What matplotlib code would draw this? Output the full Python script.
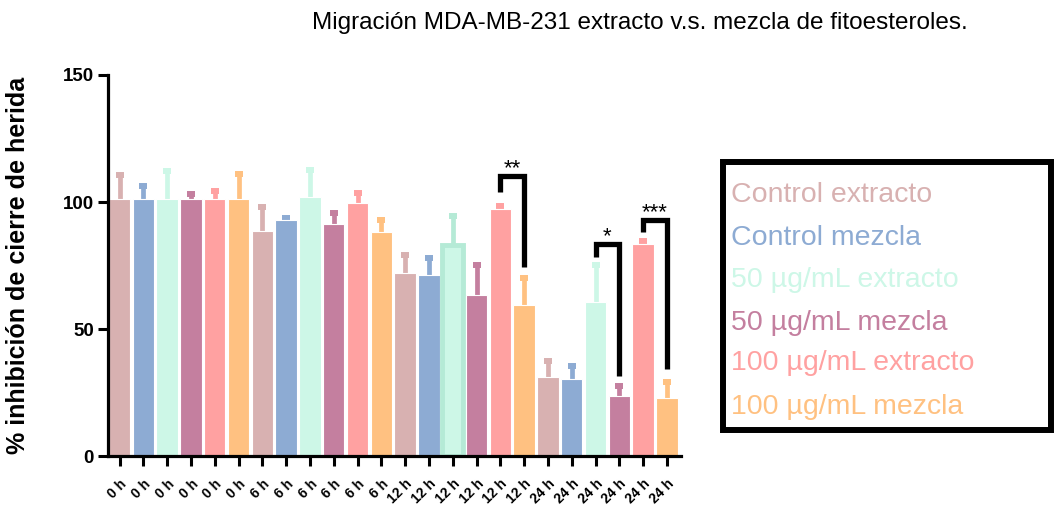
import matplotlib.pyplot as plt
from matplotlib.patches import Rectangle

plt.rcParams['font.family'] = ['Liberation Sans', 'DejaVu Sans']

# groups (legend order) and time points
groups = ['Control extracto', 'Control mezcla', '50 µg/mL extracto',
          '50 µg/mL mezcla', '100 µg/mL extracto', '100 µg/mL mezcla']
times = ['0 h', '6 h', '12 h', '24 h']
tick_labels = [t for t in times for _ in groups]

# % inhibition, one row per time point, one column per group
means = [
    [101.0, 101.0, 101.0, 101.0, 101.0, 101.0],
    [88.6, 93.0, 101.8, 91.2, 99.5, 88.2],
    [71.9, 71.4, 83.0, 63.5, 97.4, 59.3],
    [31.1, 30.4, 60.5, 23.5, 83.5, 23.0],
]
errs = [
    [9.8, 5.2, 11.1, 2.1, 3.4, 10.1],
    [9.4, 0.6, 10.9, 4.3, 4.2, 4.7],
    [7.1, 6.7, 11.5, 11.8, 0.9, 10.9],
    [6.5, 5.0, 14.6, 4.2, 1.0, 6.1],
]

# significance brackets: (left bar, right bar, top, left foot, right foot, label)
brackets = [
    (16, 17, 110.3, 104.0, 74.5, '**'),
    (20, 21, 83.3, 78.5, 31.5, '*'),
    (22, 23, 92.9, 88.3, 34.1, '***'),
]

colors = ['#D8B1B1', '#8DABD3', '#CDF7E7', '#C47F9F', '#FFA1A1', '#FFC181']

fig = plt.figure(figsize=(10.58, 5.05), dpi=100)
ax = fig.add_axes([0.102, 0.097, 0.5414, 0.7545])

vals = [v for row in means for v in row]
ers = [e for row in errs for e in row]
cols = colors * len(times)
x = list(range(len(vals)))

for i in x:
    edge = 'white'
    lw = 0.8
    ecol = cols[i]
    if i == 14:
        edge = '#B5EAD6'
        lw = 3.5
        ecol = '#B5EAD6'
    ax.bar(i, vals[i], width=0.9, color=cols[i], edgecolor=edge, linewidth=lw, zorder=2)
    # upper error only: stem + flat cap
    ax.plot([i, i], [vals[i], vals[i] + ers[i]], color=ecol, lw=3.4,
            solid_capstyle='butt', zorder=1)
    ax.plot(i, vals[i] + ers[i], marker='_', markersize=6, markeredgewidth=4.3,
            color=ecol, zorder=1)

for a, b, top, ya, yb, lab in brackets:
    ax.plot([a, a, b, b], [ya, top, top, yb], color='black', lw=3.8,
            solid_joinstyle='miter', solid_capstyle='butt', zorder=3)
    ax.text((a + b) / 2, top + 0.8, lab, ha='center', va='baseline',
            fontsize=16, color='black')

ax.set_xlim(-0.49, 23.58)
ax.set_ylim(0, 150)
ax.set_yticks([0, 50, 100, 150])
ax.set_xticks(x)
ax.set_xticklabels(tick_labels, rotation=45, ha='right', va='top',
                   rotation_mode='anchor', fontsize=10, fontweight='bold')
for lab in ax.get_yticklabels():
    lab.set_fontweight('bold')
    lab.set_fontsize(13.5)
ax.tick_params(axis='y', length=7, width=2.2, pad=3)
ax.tick_params(axis='x', length=7, width=2.2, pad=8)
for s in ['top', 'right']:
    ax.spines[s].set_visible(False)
for s in ['left', 'bottom']:
    ax.spines[s].set_linewidth(2.3)

ax.set_ylabel('% inhibición de cierre de herida', fontsize=18, fontweight='bold')
ax.yaxis.set_label_coords(-0.136, 0.5)

fig.text(0.605, 0.9426, 'Migración MDA-MB-231 extracto v.s. mezcla de fitoesteroles.',
         ha='center', va='baseline', fontsize=17.5)

# legend box
fig.patches.append(Rectangle((0.6835, 0.148), 0.3095, 0.5315, transform=fig.transFigure,
                             fill=False, edgecolor='black', linewidth=4.3))
ys = [195, 238, 280, 323, 363, 407]
for g, c, yp in zip(groups, colors, ys):
    fig.text(731 / 1058, 1 - yp / 505, g, color=c, fontsize=20.5, ha='left', va='center')

fig.savefig('out.png', dpi=100)
